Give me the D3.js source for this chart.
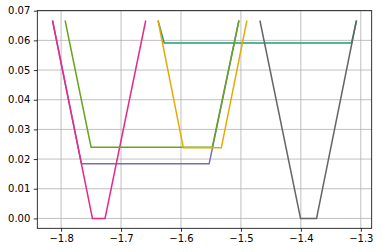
<!DOCTYPE html>
<html>
<head>
<meta charset="utf-8">
<script src="https://cdn.jsdelivr.net/npm/d3@7"></script>
<style>
  body { margin: 0; background: #fff; }
  text { font-family: "DejaVu Sans", sans-serif; font-size: 10px; fill: #000; }
</style>
</head>
<body>
<div id="chart"></div>
<script>
// x / y values of each trace
var tealX   = [-1.6383, -1.6280, -1.3155, -1.3072];
var tealY   = [0.0667, 0.0591, 0.0591, 0.0667];
var purpleX = [-1.8143, -1.7660, -1.5530, -1.5033];
var purpleY = [0.0667, 0.0184, 0.0184, 0.0667];
var pinkX   = [-1.8143, -1.7477, -1.7267, -1.6588];
var pinkY   = [0.0667, 0.0, 0.0, 0.0667];
var greenX  = [-1.7933, -1.7500, -1.5477, -1.5033];
var greenY  = [0.0667, 0.0240, 0.0240, 0.0667];
var orangeX = [-1.6383, -1.5960, -1.5327, -1.4900];
var orangeY = [0.0667, 0.0238, 0.0238, 0.0667];
var greyX   = [-1.4683, -1.4005, -1.3738, -1.3072];
var greyY   = [0.0667, 0.0, 0.0, 0.0667];

var xTicks = [-1.8, -1.7, -1.6, -1.5, -1.4, -1.3];
var yTicks = [0, 0.01, 0.02, 0.03, 0.04, 0.05, 0.06, 0.07];

var series = [
  {x: tealX, y: tealY, color: "#1b9e77"},
  {x: purpleX, y: purpleY, color: "#7570b3"},
  {x: pinkX, y: pinkY, color: "#e7298a"},
  {x: greenX, y: greenY, color: "#66a61e"},
  {x: orangeX, y: orangeY, color: "#e6ab02"},
  {x: greyX, y: greyY, color: "#666666"}
];

var margin = {top: 10.7, right: 10.3, bottom: 23.7, left: 37.3},
  W = 382, H = 252,
  width = W - margin.left - margin.right,
  height = H - margin.top - margin.bottom;

var x = d3.scaleLinear().domain([-1.8397, -1.2818]).range([0, width]);
var y = d3.scaleLinear().domain([-0.00333, 0.07]).range([height, 0]);

var svg = d3.select("#chart").append("svg")
  .attr("width", W)
  .attr("height", H);
var g = svg.append("g")
  .attr("transform", "translate(" + margin.left + "," + margin.top + ")");

// grid
g.selectAll(".vgrid").data(xTicks).enter().append("line")
  .attr("x1", function(d) { return x(d); }).attr("x2", function(d) { return x(d); })
  .attr("y1", 0).attr("y2", height)
  .attr("stroke", "#b0b0b0").attr("stroke-width", 0.8);
g.selectAll(".hgrid").data(yTicks).enter().append("line")
  .attr("y1", function(d) { return y(d); }).attr("y2", function(d) { return y(d); })
  .attr("x1", 0).attr("x2", width)
  .attr("stroke", "#b0b0b0").attr("stroke-width", 0.8);

// traces
var line = d3.line()
  .x(function(d) { return x(d[0]); })
  .y(function(d) { return y(d[1]); });

series.forEach(function(s) {
  g.append("path")
    .datum(d3.zip(s.x, s.y))
    .attr("d", line)
    .attr("fill", "none")
    .attr("stroke", s.color)
    .attr("stroke-width", 1.5);
});

// axes
var fmtX = function(d) { return d3.format(".1f")(d).replace("-", "\u2212"); };
var xAxis = g.append("g")
  .attr("transform", "translate(0," + height + ")")
  .call(d3.axisBottom(x).tickValues(xTicks).tickSize(3.5).tickPadding(3.5).tickFormat(fmtX));
var yAxis = g.append("g")
  .call(d3.axisLeft(y).tickValues(yTicks).tickSize(3.5).tickPadding(3.5).tickFormat(d3.format(".2f")));

[xAxis, yAxis].forEach(function(a) {
  a.select(".domain").remove();
  a.selectAll(".tick line").attr("stroke", "#000").attr("stroke-width", 0.8);
  a.selectAll("text").attr("font-size", "10px").attr("font-family", "DejaVu Sans, sans-serif").attr("fill", "#000");
});

// frame
g.append("rect")
  .attr("width", width).attr("height", height)
  .attr("fill", "none").attr("stroke", "#000").attr("stroke-width", 0.8);
</script>
</body>
</html>
